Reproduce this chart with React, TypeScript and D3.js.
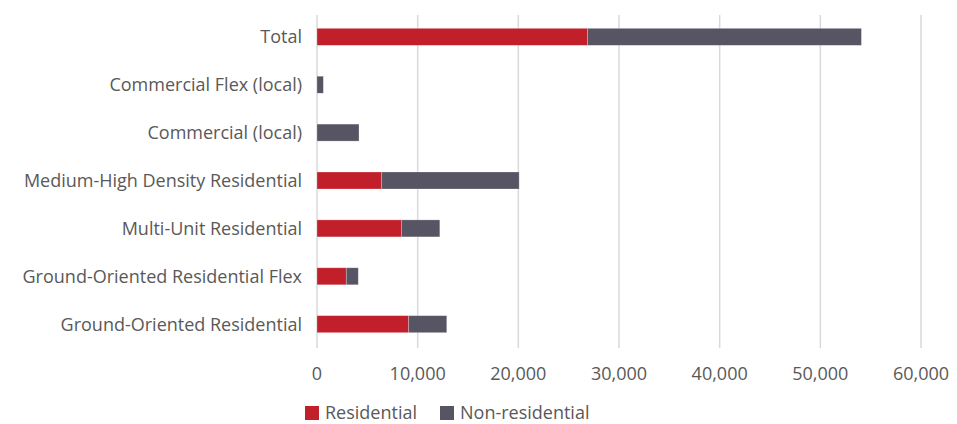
import React from "react";
import * as d3 from "d3";

const categories = [
  "Total",
  "Commercial Flex (local)",
  "Commercial (local)",
  "Medium-High Density Residential",
  "Multi-Unit Residential",
  "Ground-Oriented Residential Flex",
  "Ground-Oriented Residential",
];
const residential = [26870, 0, 0, 6430, 8380, 2910, 9110];
const nonResidential = [27210, 630, 4170, 13650, 3820, 1190, 3780];
const xTicks = [0, 10000, 20000, 30000, 40000, 50000, 60000];
const seriesNames = ["Residential", "Non-residential"];
const colors = ["#C1202A", "#575463"];

const W = 957;
const H = 424;
const left = 317;
const right = 921;
const top = 13;
const bottom = 348;
const font = "'Open Sans', 'Noto Sans', sans-serif";

export default function App() {
  const x = d3.scaleLinear().domain([0, 60000]).range([left, right]);
  const y = d3.scaleBand().domain(categories).range([top, bottom]).paddingInner(0.645).paddingOuter(0.32);
  const fmt = d3.format(",");
  const stacked = d3.stack<any>().keys(["r", "n"])(
    categories.map((c, i) => ({ c, r: residential[i], n: nonResidential[i] }))
  );
  return (
    <svg width={W} height={H} style={{ position: "absolute", left: 0, top: 0, background: "#fff" }}>
      {xTicks.map((t) => (
        <line key={t} x1={x(t)} x2={x(t)} y1={15} y2={bottom} stroke="#d9d9d9" strokeWidth={1.5} />
      ))}
      {stacked.map((s, si) =>
        s.map((d, i) =>
          d[1] - d[0] > 0 ? (
            <rect
              key={si + "-" + i}
              x={x(d[0])}
              y={y(categories[i])}
              width={x(d[1]) - x(d[0])}
              height={y.bandwidth()}
              fill={colors[si]}
              stroke="#ffffff"
              strokeOpacity={0.35}
              strokeWidth={0.7}
            />
          ) : null
        )
      )}
      {categories.map((c) => (
        <text
          key={c}
          x={302}
          y={y(c)! + y.bandwidth() / 2}
          dy="0.37em"
          textAnchor="end"
          fontFamily={font}
          fontSize={18}
          fill="#595959"
        >
          {c}
        </text>
      ))}
      {xTicks.map((t) => (
        <text key={t} x={x(t)} y={380} textAnchor="middle" fontFamily={font} fontSize={18} fill="#595959">
          {fmt(t)}
        </text>
      ))}
      {seriesNames.map((n, i) => {
        const lx = i === 0 ? 305 : 440;
        return (
          <g key={n}>
            <rect x={lx} y={406} width={14} height={14} fill={colors[i]} />
            <text x={lx + 20} y={419} fontFamily={font} fontSize={18} fill="#595959">
              {n}
            </text>
          </g>
        );
      })}
    </svg>
  );
}
